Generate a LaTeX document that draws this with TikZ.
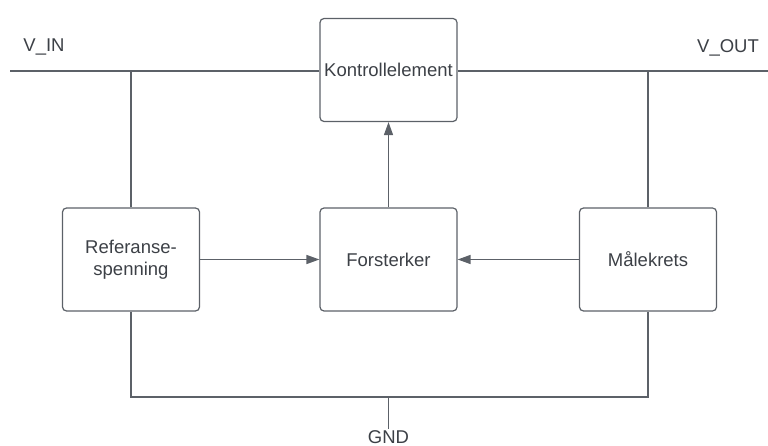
\documentclass[tikz,border=0pt]{standalone}
\usepackage{fontspec}
\setmainfont{Liberation Sans}
\usetikzlibrary{arrows.meta}
\definecolor{wire}{RGB}{92,97,104}
\definecolor{ink}{RGB}{60,64,70}
\tikzset{
  blk/.style={draw=wire, line width=1.2pt, rounded corners=4pt, minimum width=137pt,
    minimum height=103pt, align=center, text=ink, inner sep=0pt,
    font=\fontsize{18.5}{22}\selectfont},
  lbl/.style={text=ink, inner sep=0pt, font=\fontsize{18.5}{22}\selectfont},
  wr/.style={draw=wire, line width=1.4pt},
  sig/.style={wr, -{Triangle[length=13pt,width=9pt]}}
}
\begin{document}
\begin{tikzpicture}[x=1pt,y=-1pt]
\useasboundingbox (0,0) rectangle (768,446);
\node [blk] (ctrl) at (388.5,70) {Kontrollelement};
\node [blk] (ref) at (131,259.5) {Referanse-\\spenning};
\node [blk] (amp) at (388.5,259.5) {Forsterker};
\node [blk] (meas) at (648,259.5) {Målekrets};
\coordinate (vin) at (10,71);
\coordinate (vout) at (768,71);
\coordinate (gnd) at (388.5,397);
\coordinate (gndend) at (388.5,429);
\node [lbl, anchor=base] (vinl) at (44,52) {V\_IN};
\node [lbl, anchor=base] (voutl) at (728,53) {V\_OUT};
\node [lbl, anchor=base] (gndl) at (388.5,443.5) {GND};
\draw [wr] (vin) -- (ctrl.west |- vin);
\draw [wr] (ctrl.east |- vout) -- (vout);
\draw [wr] (ref.north) -- (ref.north |- vin);
\draw [wr] (meas.north) -- (meas.north |- vout);
\draw [wr] (ref.south) -- (ref.south |- gnd) -- (meas.south |- gnd) -- (meas.south);
\draw [wr] (gnd) -- (gndend);
\draw [sig] (amp) -- (ctrl);
\draw [sig] (ref) -- (amp);
\draw [sig] (meas) -- (amp);
\end{tikzpicture}
\end{document}
